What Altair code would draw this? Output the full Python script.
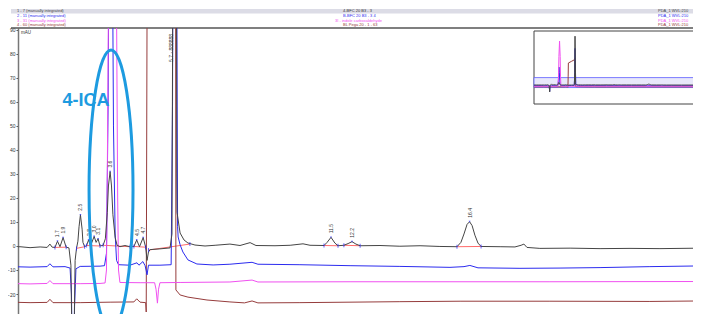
import altair as alt
import pandas as pd

# ---------------- data ----------------
# retention time (min) and absorbance (mAU) for the four overlaid traces
black_t = [0.00, 0.34, 0.70, 1.06, 1.31, 1.41, 1.49, 1.59, 1.68, 1.77, 1.88, 1.99, 2.09, 2.16, 2.22, 2.24,
           2.27, 2.31, 2.36, 2.41, 2.45, 2.50, 2.56, 2.59, 2.65, 2.72, 2.79, 2.86, 2.99, 3.06, 3.13, 3.20,
           3.31, 3.39, 3.46, 3.50, 3.56, 3.61, 3.66, 3.74, 3.81, 3.91, 4.09, 4.27, 4.41, 4.51, 4.61, 4.74,
           4.83, 4.88, 4.93, 4.99, 5.34, 5.70, 5.77, 5.81, 5.86, 5.91, 5.94, 5.95, 6.06, 6.20, 6.34, 6.59,
           6.95, 7.31, 7.84, 8.20, 8.56, 8.77, 9.45, 9.99, 10.45, 10.70, 11.20, 11.31, 11.45, 11.59, 11.70,
           11.91, 12.06, 12.20, 12.34, 12.49, 13.20, 13.91, 14.63, 15.34, 15.95, 16.09, 16.20, 16.31, 16.40,
           16.49, 16.59, 16.70, 16.81, 17.49, 18.02, 18.24, 18.34, 18.45, 18.91, 19.99, 21.06, 22.13, 23.20,
           24.66]
black_v = [-0.5, -0.3, -0.7, -0.4, -0.6, 0.8, -0.5, -0.6, 2.0, -0.3, 3.5, -0.5, -0.8, -8, -60, -85,
           -40, -6, -1, 2, 8, 13, 7, 1.5, -0.3, 0.2, 2.5, 0, 4, 1.5, 3, 0,
           0.3, 3, 14, 25, 31, 25, 13, 3.5, 0.3, -0.3, 0.2, -0.3, -0.2, 2.5, -0.3, 3.5,
           -0.5, -6, -2.5, -1.5, -1.2, -0.8, 5, 150, 600, 300, 30, 14, 5.4, 2.5, 1.25, 0.4,
           0.0, 0.3, 0.8, 0.2, 1.4, 0.2, 0.1, 0.3, 0.9, 0.3, 0.2, 1.5, 3.6, 1.2, 0.1,
           0.3, 1.0, 1.8, 0.8, 0.1, 0.2, -0.1, 0.1, -0.2, -0.3, 1.5, 5, 9, 10.1,
           8.5, 4.5, 1.2, -0.2, -0.3, -0.4, 0.3, 0.8, -0.6, -1.0, -0.9, -1.1, -1.0, -1.1,
           -0.9]

blue_t = [0.00, 0.70, 1.31, 1.41, 1.52, 1.95, 2.13, 2.18, 2.24, 2.29, 2.34, 2.49, 3.20, 3.36, 3.43, 3.49,
          3.53, 3.58, 3.63, 3.68, 3.74, 3.79, 3.86, 4.27, 4.52, 4.59, 4.73, 4.81, 4.88, 4.93, 5.34, 5.74,
          5.79, 5.86, 5.93, 5.97, 5.99, 6.06, 6.16, 6.34, 6.66, 7.24, 7.84, 8.63, 8.84, 10.34, 12.13, 13.91,
          15.70, 16.20, 16.41, 16.70, 18.20, 19.63, 21.06, 22.84, 24.66]
blue_v = [-8.6, -8.8, -8.6, -7.4, -8.7, -8.6, -9.2, -20, -80, -25, -9.5, -8.5, -8.4, -8.2, -3, 60,
          150, 220, 150, 50, 5, -6, -7.8, -8.0, -7.0, -8.0, -6.5, -8.2, -12, -8.0, -8.0, -7.8,
          60, 450, 150, 8, 3.75, 0.5, -2.5, -5.8, -7.5, -7.9, -7.6, -6.8, -7.6, -7.8, -8.2, -8.5,
          -8.9, -8.6, -8.1, -9.1, -9.3, -9.2, -9.0, -8.6, -8.3]

magenta_t = [0.00, 0.70, 1.31, 1.41, 1.52, 2.49, 3.20, 3.38, 3.43, 3.46, 3.50, 3.56, 3.65, 3.74, 3.79, 3.83,
             3.86, 3.91, 4.63, 5.15, 5.20, 5.25, 5.29, 5.34, 6.06, 7.84, 8.63, 8.84, 12.13, 15.70, 19.27, 24.66]
magenta_v = [-15.6, -15.8, -15.6, -14.4, -15.7, -15.7, -15.6, -15.4, -10, 30, 100, 350, 540, 350, 100, 20,
             -10, -15.2, -15.3, -15.3, -18, -23.8, -18, -15.3, -15.2, -15.0, -14.2, -15.0, -14.9, -14.9, -14.9, -14.8]

brown_t = [0.00, 0.70, 1.31, 1.41, 1.52, 2.49, 3.56, 4.41, 4.51, 4.63, 4.83, 4.85, 4.88, 4.91, 5.34, 5.77,
           5.86, 5.90, 5.91, 6.06, 6.34, 7.02, 7.84, 8.36, 8.63, 8.84, 10.34, 13.91, 16.06, 19.27, 22.84, 24.66]
brown_v = [-23.4, -23.6, -23.5, -22.2, -23.6, -23.6, -23.4, -23.3, -22.0, -23.4, -23.6, -27.5, 100, 270, 290, 310,
           330, 100, -18.3, -20.4, -21.3, -22.5, -23.3, -23.7, -22.9, -23.7, -23.6, -23.2, -23.0, -23.0, -23.1, -22.9]

# peak labels (retention time text, apex position)
label_text = ["1.7", "1.9", "2.5", "2.8", "3.0", "3.1", "3.6", "4.5", "4.7", "5.7 - 888888", "11.5", "12.2", "16.4"]
label_t = [1.68, 1.88, 2.50, 2.79, 2.99, 3.13, 3.56, 4.51, 4.74, 5.72, 11.45, 12.20, 16.40]
label_v = [2.0, 3.5, 13, 2.5, 4, 3, 31, 2.5, 3.5, 75, 3.6, 1.8, 10.1]

# integration baselines of trace 1
seg_t0 = [1.59, 2.36, 2.72, 3.31, 4.41, 4.93, 11.20, 11.91, 15.95]
seg_v0 = [-0.6, -1.0, 0.2, 0.3, -0.2, -1.7, 0.2, 0.3, -0.3]
seg_t1 = [1.99, 2.65, 3.20, 4.27, 4.83, 6.41, 11.70, 12.49, 16.81]
seg_v1 = [-0.5, -0.3, 0.0, -0.3, -0.5, 0.8, 0.1, 0.1, -0.2]

series_names = ["1 - 7", "2 - 11", "3 - 31", "4 - 60"]
header_left = ["1 - 7 (manually integrated)", "2 - 11 (manually integrated)",
               "3 - 31 (manually integrated)", "4 - 60 (manually integrated)"]
header_mid = ["4-BFC 20 B3 - 3", "B-BFC 20 B3 - 3 4", "3I - indole carboxaldehyde", "BL Pega 20 - 1 - 63"]
header_right = ["PDA_1 WVL:210", "PDA_1 WVL:210", "PDA_1 WVL:210", "PDA_1 WVL:210"]
y_ticks = [-20, -10, 0, 10, 20, 30, 40, 50, 60, 70, 80, 90]

# ---------------- styling / layout ----------------
COLORS = ["#454545", "#2b2bef", "#f050f0", "#963c3c"]
ANNOT = "#1d9be0"
W, H = 675, 286
X_MAIN = alt.Scale(domain=[0.27, 24.38], nice=False, zero=False)
Y_MAIN = alt.Scale(domain=[-28.33, 90.8], nice=False, zero=False)
X_IN = alt.Scale(domain=[0, 24], range=[516, 684], nice=False, zero=False)
Y_IN = alt.Scale(domain=[-234, 664], range=[76, 3], nice=False, zero=False)


def trace_df(name, ts, vs):
    assert len(ts) == len(vs), name
    return pd.DataFrame({"series": name, "t": ts, "v": vs, "i": list(range(len(ts)))})


traces = {
    series_names[0]: trace_df(series_names[0], black_t, black_v),
    series_names[1]: trace_df(series_names[1], blue_t, blue_v),
    series_names[2]: trace_df(series_names[2], magenta_t, magenta_v),
    series_names[3]: trace_df(series_names[3], brown_t, brown_v),
}


def line_layer(k, xs, ys, axis=None):
    return alt.Chart(traces[series_names[k]]).mark_line(
        color=COLORS[k], strokeWidth=1, clip=True
    ).encode(
        x=alt.X("t:Q", scale=xs, axis=None),
        y=alt.Y("v:Q", scale=ys, axis=axis),
        order="i:Q",
    )


y_axis = alt.Axis(values=y_ticks, labelFontSize=5, labelColor="#333", tickSize=2, tickColor="#555",
                  domainColor="#777", domainWidth=1.5, labelPadding=1, grid=False, title=None,
                  labelFont="Liberation Sans")

one = pd.DataFrame({"a": [0]})

# header
hrows = []
row_y = [-17, -12.3, -7.2, -2.6]
for r in range(4):
    hrows.append({"text": header_left[r], "color": COLORS[r], "hx": -1, "hy": row_y[r]})
    hrows.append({"text": header_mid[r], "color": COLORS[r] if r else "#333",
                  "hx": 317 if r == 2 else 325, "hy": row_y[r]})
    hrows.append({"text": header_right[r], "color": COLORS[r], "hx": 640, "hy": row_y[r]})
header_df = pd.DataFrame(hrows)

header_band = alt.Chart(one).mark_rect(color="#dcdce6").encode(
    x=alt.value(-7), x2=alt.value(W), y=alt.value(-19), y2=alt.value(-14.6))
header_text = alt.Chart(header_df).mark_text(align="left", baseline="middle", fontSize=4,
                                             font="Liberation Sans").encode(
    x=alt.X("hx:Q", scale=None), y=alt.Y("hy:Q", scale=None),
    color=alt.Color("color:N", scale=None), text="text:N")
top_rule = alt.Chart(one).mark_rule(color="#555", strokeWidth=1.5).encode(
    x=alt.value(-7), x2=alt.value(W), y=alt.value(0))

seg_df = pd.DataFrame({"t0": seg_t0, "v0": seg_v0, "t1": seg_t1, "v1": seg_v1})
segs = alt.Chart(seg_df).mark_rule(color="#ff6b6b", strokeWidth=1, clip=True).encode(
    x=alt.X("t0:Q", scale=X_MAIN, axis=None), x2="t1:Q",
    y=alt.Y("v0:Q", scale=Y_MAIN, axis=None), y2="v1:Q")
ends_df = pd.DataFrame({"t": seg_t0 + seg_t1, "v": seg_v0 + seg_v1})
ends = alt.Chart(ends_df).mark_tick(orient="vertical", color="#2323ff", size=4, thickness=1,
                                    clip=True).encode(
    x=alt.X("t:Q", scale=X_MAIN, axis=None), y=alt.Y("v:Q", scale=Y_MAIN, axis=None))

lab_df = pd.DataFrame({"text": label_text, "t": label_t, "v": label_v})
apex = alt.Chart(lab_df).transform_filter(alt.datum.v < 60).mark_point(
    shape="triangle-down", filled=True, size=4, color="#2323ff", clip=True).encode(
    x=alt.X("t:Q", scale=X_MAIN, axis=None), y=alt.Y("v:Q", scale=Y_MAIN, axis=None))
labels = alt.Chart(lab_df).mark_text(angle=270, align="left", baseline="middle", dx=4, fontSize=5,
                                     color="#333", font="Liberation Sans", clip=True).encode(
    x=alt.X("t:Q", scale=X_MAIN, axis=None), y=alt.Y("v:Q", scale=Y_MAIN, axis=None), text="text:N")
mau = alt.Chart(one).mark_text(align="left", baseline="middle", fontSize=4.5, color="#333",
                               font="Liberation Sans").encode(
    x=alt.value(3), y=alt.value(5), text=alt.value("mAU"))

# inset overview
box_df = pd.DataFrame({"x0": [0], "x1": [30], "y0": [-234], "y1": [664]})
band_df = pd.DataFrame({"x0": [0], "x1": [30], "y0": [-31.7], "y1": [90.8]})
inset_box = alt.Chart(box_df).mark_rect(fill="white", stroke="#444", strokeWidth=1, clip=True).encode(
    x=alt.X("x0:Q", scale=X_IN, axis=None), x2="x1:Q",
    y=alt.Y("y0:Q", scale=Y_IN, axis=None), y2="y1:Q")
inset_band = alt.Chart(band_df).mark_rect(fill="#e8e8fa", stroke="#5a5aff", strokeWidth=0.8,
                                          clip=True).encode(
    x=alt.X("x0:Q", scale=X_IN, axis=None), x2="x1:Q",
    y=alt.Y("y0:Q", scale=Y_IN, axis=None), y2="y1:Q")

# annotation
ann_df = pd.DataFrame({"t": [3.593], "v": [23.3]})
lbl_df = pd.DataFrame({"t": [2.70], "v": [60.2], "text": ["4-ICA"]})
ELLIPSE = ("M 0 -1 C 0.0867 -1 0.157 -0.5523 0.157 0 C 0.157 0.5523 0.0867 1 0 1 "
           "C -0.0867 1 -0.157 0.5523 -0.157 0 C -0.157 -0.5523 -0.0867 -1 0 -1 Z")
ellipse = alt.Chart(ann_df).mark_point(shape=ELLIPSE, size=78400, filled=False, stroke=ANNOT,
                                       strokeWidth=3, opacity=1, clip=True).encode(
    x=alt.X("t:Q", scale=X_MAIN, axis=None), y=alt.Y("v:Q", scale=Y_MAIN, axis=None))
ica = alt.Chart(lbl_df).mark_text(fontSize=18, fontWeight="bold", color=ANNOT, align="center",
                                  baseline="middle", font="Liberation Sans").encode(
    x=alt.X("t:Q", scale=X_MAIN, axis=None), y=alt.Y("v:Q", scale=Y_MAIN, axis=None), text="text:N")

layers = [
    header_band, header_text, top_rule, segs,
    line_layer(3, X_MAIN, Y_MAIN, axis=y_axis),
    line_layer(1, X_MAIN, Y_MAIN),
    line_layer(2, X_MAIN, Y_MAIN),
    line_layer(0, X_MAIN, Y_MAIN),
    ends, apex, labels, mau,
    inset_box, inset_band,
    line_layer(3, X_IN, Y_IN), line_layer(1, X_IN, Y_IN), line_layer(2, X_IN, Y_IN), line_layer(0, X_IN, Y_IN),
    ellipse, ica,
]

chart = alt.layer(*layers).properties(
    width=W, height=H,
    autosize=alt.AutoSizeParams(type="none"),
    padding={"left": 10, "top": 20, "right": 0, "bottom": 0},
).resolve_scale(x="independent", y="independent").configure_view(stroke=None)

chart.save("out.html", embed_options={"renderer": "svg", "actions": False})
